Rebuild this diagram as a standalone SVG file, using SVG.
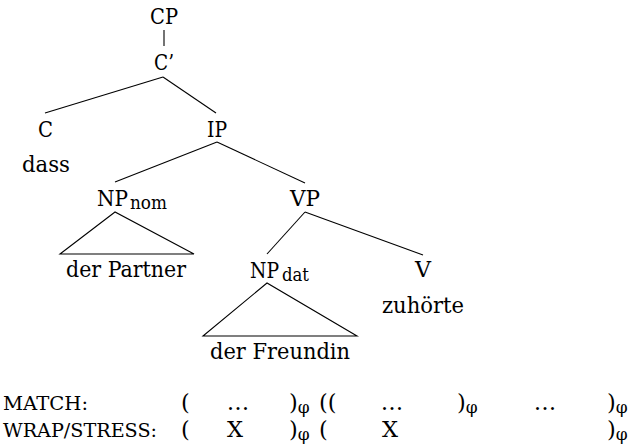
<svg xmlns="http://www.w3.org/2000/svg" width="632" height="444" viewBox="0 0 632 444">
  <style>
    text { font-family: "DejaVu Serif", "Liberation Serif", serif; font-size: 22.5px; fill: #000; }
    .lbl { text-anchor: middle; }
    .sub { font-size: 18px; }
    .phi { font-size: 17px; }
    .tier { font-size: 19px; }
    .edge { stroke: #000; stroke-width: 1.1; fill: none; }
  </style>
  <rect width="632" height="444" fill="#fff"/>

  <!-- tree branches -->
  <g id="connectors">
    <line class="edge" x1="164" y1="30" x2="164" y2="46"/>
    <line class="edge" x1="163" y1="77" x2="45" y2="113"/>
    <line class="edge" x1="163" y1="77" x2="216" y2="113"/>
    <line class="edge" x1="217" y1="142" x2="115" y2="182"/>
    <line class="edge" x1="217" y1="142" x2="305" y2="183"/>
    <line class="edge" x1="305" y1="212" x2="267" y2="254"/>
    <line class="edge" x1="305" y1="212" x2="423" y2="255"/>
    <!-- roofs over unanalysed phrases -->
    <polygon class="edge" points="115,212 60,254 194,254"/>
    <polygon class="edge" points="267,283 203,336 357,336"/>
  </g>

  <g id="cp"><text x="150" y="24" textLength="28" lengthAdjust="spacingAndGlyphs">CP</text></g>
  <g id="cbar"><text x="154" y="70" textLength="20" lengthAdjust="spacingAndGlyphs">C’</text></g>
  <g id="c"><text x="38" y="137" textLength="15" lengthAdjust="spacingAndGlyphs">C</text></g>
  <g id="dass"><text x="22" y="172" textLength="48" lengthAdjust="spacingAndGlyphs">dass</text></g>
  <g id="ip"><text x="207" y="137" textLength="20" lengthAdjust="spacingAndGlyphs">IP</text></g>
  <g id="np-nom">
    <text x="97" y="206" textLength="31" lengthAdjust="spacingAndGlyphs">NP</text>
    <text class="sub" x="130" y="209" textLength="37" lengthAdjust="spacingAndGlyphs">nom</text>
  </g>
  <g id="der-partner"><text x="66" y="277" textLength="120" lengthAdjust="spacingAndGlyphs">der Partner</text></g>
  <g id="vp"><text x="290" y="206" textLength="30" lengthAdjust="spacingAndGlyphs">VP</text></g>
  <g id="np-dat">
    <text x="250" y="278" textLength="29" lengthAdjust="spacingAndGlyphs">NP</text>
    <text class="sub" x="282" y="281" textLength="27" lengthAdjust="spacingAndGlyphs">dat</text>
  </g>
  <g id="der-freundin"><text x="210" y="359" textLength="140" lengthAdjust="spacingAndGlyphs">der Freundin</text></g>
  <g id="v"><text x="415" y="277" textLength="16" lengthAdjust="spacingAndGlyphs">V</text></g>
  <g id="zuhoerte"><text x="382" y="313" textLength="82" lengthAdjust="spacingAndGlyphs">zuhörte</text></g>

  <!-- phrasing tiers -->
  <g id="match-tier">
    <text class="tier" x="3" y="410" textLength="85" lengthAdjust="spacingAndGlyphs">MATCH:</text>
    <text x="181" y="410">(</text>
    <text class="lbl" x="238" y="410">…</text>
    <text x="289" y="410">)<tspan class="phi" dy="3">φ</tspan></text>
    <text x="319" y="410">((</text>
    <text class="lbl" x="392" y="410">…</text>
    <text x="457" y="410">)<tspan class="phi" dy="3">φ</tspan></text>
    <text class="lbl" x="545" y="410">…</text>
    <text x="607" y="410">)<tspan class="phi" dy="3">φ</tspan></text>
  </g>
  <g id="wrap-tier">
    <text class="tier" x="3" y="437" textLength="154" lengthAdjust="spacingAndGlyphs">WRAP/STRESS:</text>
    <text x="181" y="437">(</text>
    <text class="lbl" x="235" y="437">X</text>
    <text x="289" y="437">)<tspan class="phi" dy="3">φ</tspan></text>
    <text x="319" y="437">(</text>
    <text class="lbl" x="390" y="437">X</text>
    <text x="607" y="437">)<tspan class="phi" dy="3">φ</tspan></text>
  </g>
</svg>
